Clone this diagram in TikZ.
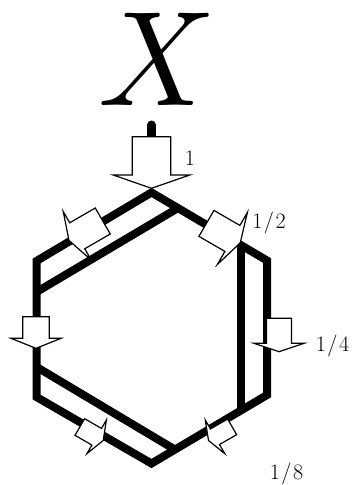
\documentclass[tikz,border=0pt]{standalone}
\usetikzlibrary{calc}
\tikzset{
  pipe/.style={line width=8pt, line join=miter},
  flowbox/.style={draw=black, fill=white, line width=1.2pt, line join=miter},
  share/.style={inner sep=0pt, anchor=base, font=\fontsize{22}{26}\selectfont},
}
% block arrow: #1 tip, #2 direction, #3 shaft half-width, #4 head half-width,
% #5 shaft length, #6 head length
\newcommand\flowarrow[6]{%
  \begin{scope}[shift={#1}, rotate=#2]
    \draw[flowbox] (0,0) -- (-#6,#4) -- (-#6,#3) -- ({-#6-#5},#3)
      -- ({-#6-#5},-#3) -- (-#6,-#3) -- (-#6,-#4) -- cycle;
  \end{scope}}
\begin{document}
\begin{tikzpicture}[x=1pt,y=1pt]
\useasboundingbox (0,0) rectangle (356,-485);

% title
\node[inner sep=0pt] (title) at (157,-59) {\scalebox{13}[13.5]{$X$}};

% hexagon corners
\coordinate (T)  at (151.5,-192.5);
\coordinate (TR) at (267,-260.5);
\coordinate (BR) at (267,-395);
\coordinate (B)  at (151.5,-463.5);
\coordinate (BL) at (36.5,-397);
\coordinate (TL) at (36.5,-261);

% branch points
\coordinate (P1) at ($(T)!0.229!(TR)$);
\coordinate (Q1) at ($(TL)!0.228!(BL)$);
\coordinate (P2) at ($(T)!0.775!(TR)$);
\coordinate (Q2) at ($(BR)!0.225!(B)$);
\coordinate (Q3) at ($(TL)!0.779!(BL)$);
\coordinate (P3) at ($(BR)!0.797!(B)$);

% feed stub
\coordinate (feed)  at (151.5,-125);
\coordinate (inlet) at (151.5,-137);
\draw[line width=9pt, line cap=round] (feed) -- (inlet);

% ring and inner chords
\draw[pipe] (T) -- (TR) -- (BR) -- (B) -- (BL) -- (TL) -- cycle;
\draw[pipe] (P1) -- (Q1);
\draw[pipe] (P2) -- (Q2);
\draw[pipe] (Q3) -- (P3);

% flow arrows
\flowarrow{(151.5,-188.3)}{-90}{19.2}{38.3}{38.3}{13.3}
\flowarrow{(69,-240.5)}{210}{15}{28}{29.5}{9.5}
\flowarrow{(240.2,-242.9)}{-30}{15}{30}{30}{9}
\flowarrow{(36,-348.3)}{-90}{13.3}{25}{21.6}{10}
\flowarrow{(279,-351.7)}{-90}{12.5}{25}{25}{8.4}
\flowarrow{(103.2,-440.5)}{-30}{9.6}{19.4}{19.5}{7.5}
\flowarrow{(208.5,-440.5)}{210}{9}{19.4}{19.8}{7.5}

% shares
\node[share] (w1) at (190,-165.7) {1};
\node[share] (w2) at (269,-228) {1\kern1.5pt/\kern1.5pt2};
\node[share] (w4) at (332.5,-351.5) {1\kern1.5pt/\kern1.5pt4};
\node[share] (w8) at (286.5,-479.5) {1\kern1.5pt/\kern1.5pt8};
\end{tikzpicture}
\end{document}
